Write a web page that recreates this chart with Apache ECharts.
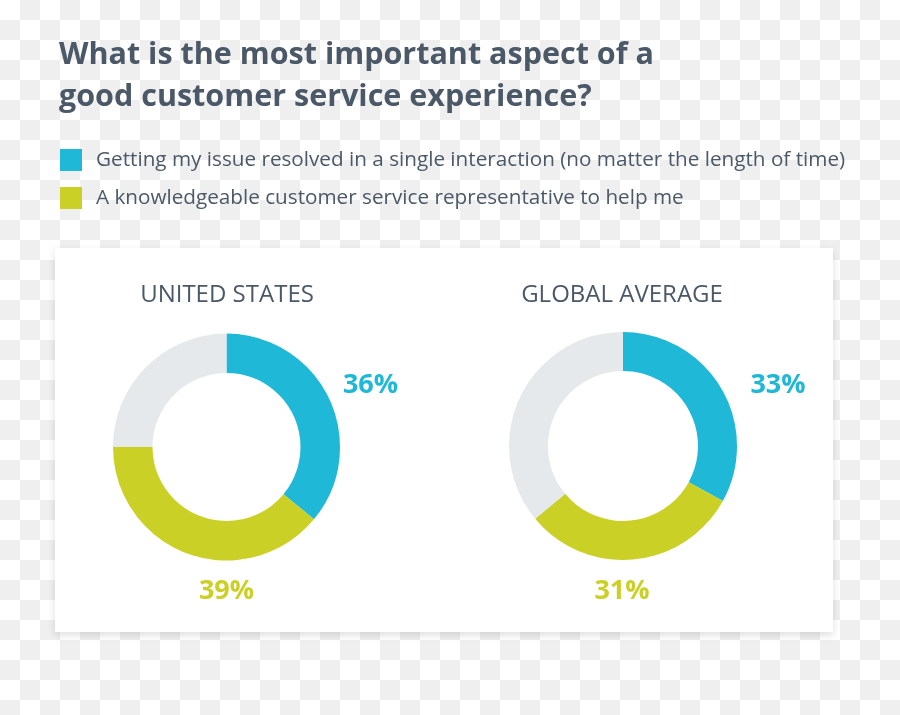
<!DOCTYPE html>
<html>
<head>
<meta charset="utf-8">
<script src="https://cdn.jsdelivr.net/npm/echarts@6/dist/echarts.min.js"></script>
<style>
  html, body { margin: 0; padding: 0; }
  body {
    width: 900px; height: 715px;
    background: repeating-conic-gradient(#efefef 0% 25%, #ffffff 0% 50%) 0 0 / 40px 40px;
  }
  #chart { width: 900px; height: 715px; }
</style>
</head>
<body>
<div id="chart"></div>
<script>
// ---- data ----
const titleLines = ['What is the most important aspect of a', 'good customer service experience?'];
const categories = [
  'Getting my issue resolved in a single interaction (no matter the length of time)',
  'A knowledgeable customer service representative to help me'
];
const otherName = 'Other';
const regions = ['UNITED STATES', 'GLOBAL AVERAGE'];
const usValues = [36, 39, 25];
const globalValues = [33, 31, 36];

// ---- style / layout ----
const COLORS = ['#1fb8d6', '#cbd026', '#e6e9ec'];
const TEXT = '#4a5867';
const FONT = '"Open Sans", "Noto Sans", sans-serif';
const pies = [
  { center: [226.5, 447], radius: [74, 113.5], title: [222, 278],
    labelPos: [[144, -62], [0, 144]] },
  { center: [623, 446], radius: [75, 114], title: [617, 278],
    labelPos: [[155, -61], [-1, 145]] }
];

function pieData(values) {
  const names = categories.concat([otherName]);
  return values.map((v, i) => ({
    name: names[i],
    value: v,
    itemStyle: { color: COLORS[i] },
    label: i < 2 ? { show: true, color: COLORS[i] } : { show: false }
  }));
}

const chart = echarts.init(document.getElementById('chart'), null, { renderer: 'canvas' });

const allValues = [usValues, globalValues];

const option = {
  backgroundColor: 'transparent',
  animation: false,
  title: [
    {
      text: titleLines.join('\n'),
      left: 54, top: 29,
      textStyle: { fontFamily: FONT, fontSize: 30.5, fontWeight: 'bold', color: TEXT, lineHeight: 42 }
    }
  ].concat(regions.map((r, i) => ({
    text: r,
    left: pies[i].title[0], top: pies[i].title[1],
    textAlign: 'center',
    textStyle: { fontFamily: FONT, fontSize: 24, fontWeight: 'normal', color: TEXT }
  }))),
  legend: {
    data: categories,
    orient: 'vertical',
    left: 55, top: 144,
    icon: 'rect',
    itemWidth: 22, itemHeight: 22, itemGap: 16,
    selectedMode: false,
    textStyle: { fontFamily: FONT, fontSize: 20.7, color: TEXT, padding: [0, 0, 0, 9] }
  },
  graphic: [{
    type: 'rect',
    z: -10,
    shape: { x: 55, y: 248, width: 778, height: 384 },
    style: { fill: '#ffffff', shadowBlur: 8, shadowColor: 'rgba(0,0,0,0.13)', shadowOffsetY: 3 }
  }],
  series: allValues.map((vals, si) => ({
    type: 'pie',
    center: pies[si].center,
    radius: pies[si].radius,
    startAngle: 90,
    clockwise: true,
    silent: true,
    avoidLabelOverlap: false,
    label: {
      position: 'outside',
      formatter: '{c}%',
      fontFamily: FONT, fontSize: 27, fontWeight: 'bold'
    },
    labelLine: { show: false },
    labelLayout: function (p) {
      const off = pies[si].labelPos[p.dataIndex];
      if (!off) return {};
      return {
        x: pies[si].center[0] + off[0],
        y: pies[si].center[1] + off[1],
        align: 'center', verticalAlign: 'middle'
      };
    },
    emphasis: { disabled: true },
    data: pieData(vals)
  }))
};
chart.setOption(option);
</script>
</body>
</html>
